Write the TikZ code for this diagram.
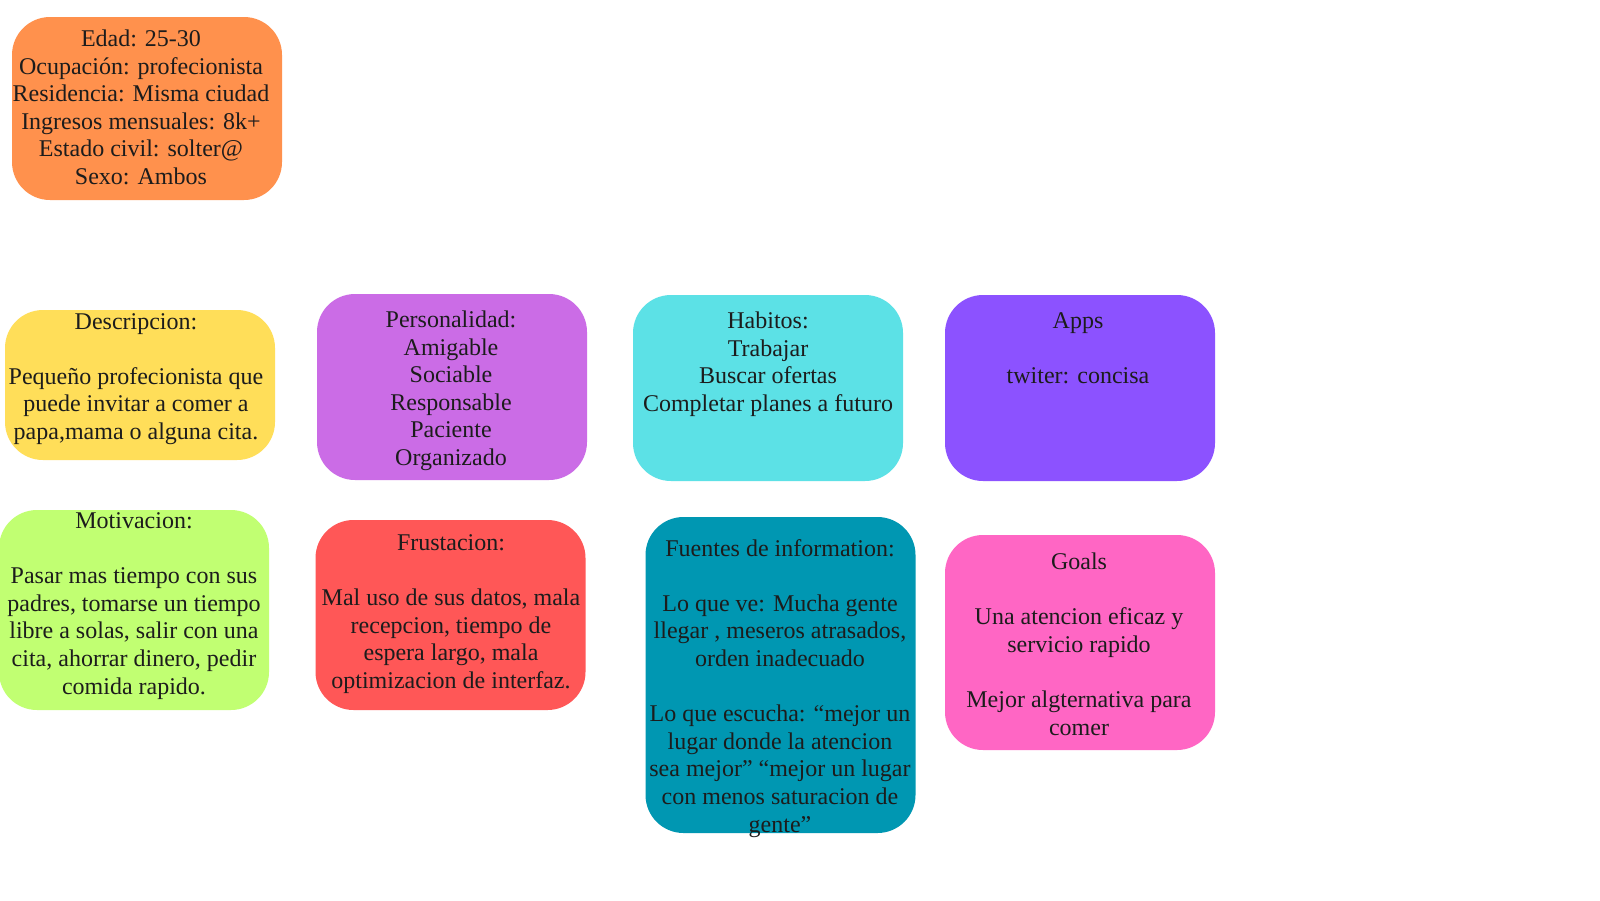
\documentclass[tikz,border=0pt]{standalone}
\usepackage{fontspec}
\setmainfont{Liberation Serif}
\definecolor{corange}{HTML}{FF914D}
\definecolor{cyellow}{HTML}{FFDE59}
\definecolor{cpurple}{HTML}{CB6CE6}
\definecolor{ccyan}{HTML}{5CE1E6}
\definecolor{cviolet}{HTML}{8C52FF}
\definecolor{cgreen}{HTML}{C1FF72}
\definecolor{cred}{HTML}{FF5757}
\definecolor{cteal}{HTML}{0097B2}
\definecolor{cpink}{HTML}{FF66C4}
\definecolor{txtc}{HTML}{1C1C1C}
\newcommand{\blk}[1]{\parbox[t]{320pt}{\fontsize{24}{27.6}\selectfont\centering #1}}
\newcommand{\gap}{\\[27.6pt]}
\tikzset{
  card/.style={draw=none, rounded corners=38pt, inner sep=0pt, minimum width=270pt},
  label/.style={anchor=base, inner sep=0pt, text=txtc}
}
\begin{document}
\begin{tikzpicture}[x=1pt,y=-1pt]
\useasboundingbox (0,0) rectangle (1600,900);
\fill[white] (0,0) rectangle (1600,900);
% cards
\node[card, fill=corange, minimum height=183pt] (b1) at (147,108.5) {};
\node[card, fill=cyellow, minimum height=150pt] (b2) at (140,385) {};
\node[card, fill=cpurple, minimum height=186pt] (b3) at (452,387) {};
\node[card, fill=ccyan, minimum height=186pt] (b4) at (768,388) {};
\node[card, fill=cviolet, minimum height=186pt] (b5) at (1080,388) {};
\node[card, fill=cgreen, minimum height=200pt] (b6) at (134,610) {};
\node[card, fill=cred, minimum height=190pt] (b7) at (450.5,615) {};
\node[card, fill=cteal, minimum height=316pt] (b8) at (780.5,675) {};
\node[card, fill=cpink, minimum height=215pt] (b9) at (1080,642.5) {};
% texts
\node[label] (t1) at (141,46.5) {\blk{Edad: 25-30\\Ocupación: profecionista\\Residencia: Misma ciudad\\Ingresos mensuales: 8k+\\Estado civil: solter@\\Sexo: Ambos}};
\node[label] (t2) at (136,329) {\blk{Descripcion:\gap Pequeño profecionista que\\puede invitar a comer a\\papa,mama o alguna cita.}};
\node[label] (t3) at (451,327.5) {\blk{Personalidad:\\Amigable\\Sociable\\Responsable\\Paciente\\Organizado}};
\node[label] (t4) at (768,328.5) {\blk{Habitos:\\Trabajar\\Buscar ofertas\\Completar planes a futuro}};
\node[label] (t5) at (1078,328.5) {\blk{Apps\gap twiter: concisa}};
\node[label] (t6) at (134,528.5) {\blk{Motivacion:\gap Pasar mas tiempo con sus\\padres, tomarse un tiempo\\libre a solas, salir con una\\cita, ahorrar dinero, pedir\\comida rapido.}};
\node[label] (t7) at (451,550.5) {\blk{Frustacion:\gap Mal uso de sus datos, mala\\recepcion, tiempo de\\espera largo, mala\\optimizacion de interfaz.}};
\node[label] (t8) at (780,556) {\blk{Fuentes de information:\gap Lo que ve: Mucha gente\\llegar , meseros atrasados,\\orden inadecuado\gap Lo que escucha: “mejor un\\lugar donde la atencion\\sea mejor” “mejor un lugar\\con menos saturacion de\\gente”}};
\node[label] (t9) at (1079,569.5) {\blk{Goals\gap Una atencion  eficaz y\\servicio rapido\gap Mejor algternativa para\\comer}};
\end{tikzpicture}
\end{document}
